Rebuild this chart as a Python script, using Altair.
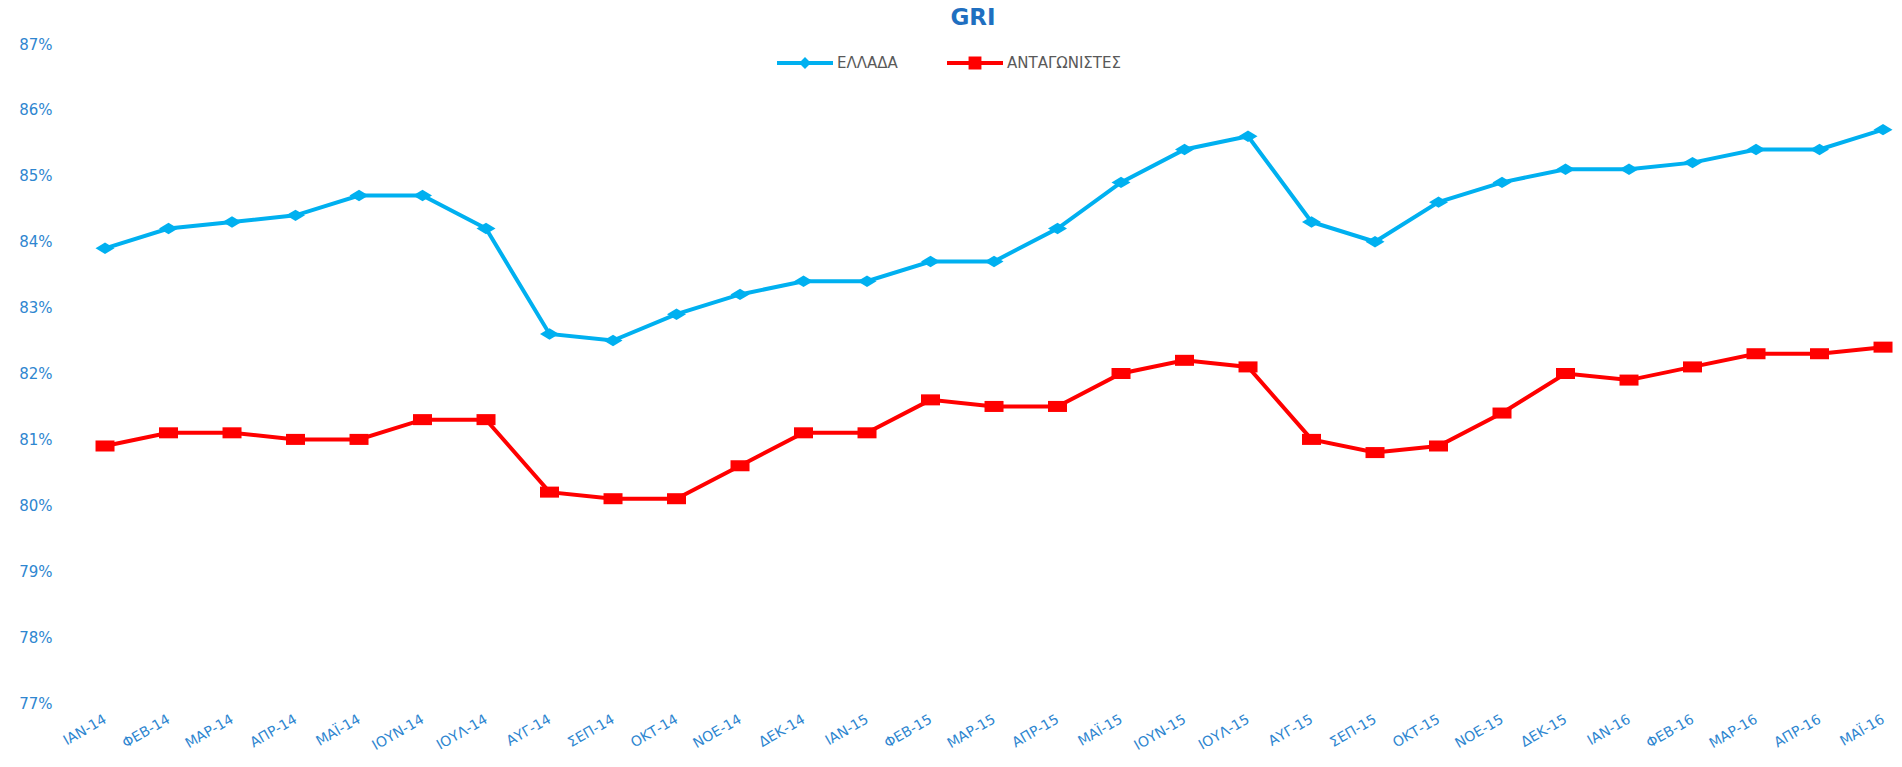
import altair as alt
import pandas as pd
import json

months = ["ΙΑΝ-14", "ΦΕΒ-14", "ΜΑΡ-14", "ΑΠΡ-14", "ΜΑΪ-14", "ΙΟΥΝ-14", "ΙΟΥΛ-14", "ΑΥΓ-14",
          "ΣΕΠ-14", "ΟΚΤ-14", "ΝΟΕ-14", "ΔΕΚ-14",
          "ΙΑΝ-15", "ΦΕΒ-15", "ΜΑΡ-15", "ΑΠΡ-15", "ΜΑΪ-15", "ΙΟΥΝ-15", "ΙΟΥΛ-15", "ΑΥΓ-15",
          "ΣΕΠ-15", "ΟΚΤ-15", "ΝΟΕ-15", "ΔΕΚ-15",
          "ΙΑΝ-16", "ΦΕΒ-16", "ΜΑΡ-16", "ΑΠΡ-16", "ΜΑΪ-16"]

greece = [83.9, 84.2, 84.3, 84.4, 84.7, 84.7, 84.2, 82.6, 82.5, 82.9, 83.2, 83.4, 83.4, 83.7,
          83.7, 84.2, 84.9, 85.4, 85.6, 84.3, 84.0, 84.6, 84.9, 85.1, 85.1, 85.2, 85.4, 85.4, 85.7]

competitors = [80.9, 81.1, 81.1, 81.0, 81.0, 81.3, 81.3, 80.2, 80.1, 80.1, 80.6, 81.1, 81.1, 81.6,
               81.5, 81.5, 82.0, 82.2, 82.1, 81.0, 80.8, 80.9, 81.4, 82.0, 81.9, 82.1, 82.3, 82.3, 82.4]

series = ["ΕΛΛΑΔΑ", "ΑΝΤΑΓΩΝΙΣΤΕΣ"]
colors = ["#00B0F0", "#FF0000"]
y_ticks = [0.77, 0.78, 0.79, 0.80, 0.81, 0.82, 0.83, 0.84, 0.85, 0.86, 0.87]

rows = []
for i, m in enumerate(months):
    rows.append({"idx": i, "month": m, "series": series[0], "value": greece[i] / 100})
    rows.append({"idx": i, "month": m, "series": series[1], "value": competitors[i] / 100})
df = pd.DataFrame(rows)

label_expr = json.dumps(months, ensure_ascii=False) + "[datum.value]"

marker_paths = ["M-1,0L0,-0.6L1,0L0,0.6Z", "M-1,-0.58L1,-0.58L1,0.58L-1,0.58Z"]
legend_paths = [
    "M-1,-0.07L1,-0.07L1,0.07L-1,0.07Z M0,-0.214L0.214,0L0,0.214L-0.214,0Z",
    "M-1,-0.07L1,-0.07L1,0.07L-1,0.07Z M-0.23,-0.23L0.23,-0.23L0.23,0.23L-0.23,0.23Z",
]

axis_color = "#2E86D0"
font = "DejaVu Sans"

x_enc = alt.X(
    "idx:Q",
    scale=alt.Scale(domain=[-0.709, 28.047], nice=False, zero=False),
    axis=alt.Axis(
        title=None, values=list(range(len(months))), labelExpr=label_expr,
        labelAngle=330, labelAlign="right", labelBaseline="middle",
        labelPadding=15, ticks=False, tickSize=0, domain=False, grid=False,
        labelColor=axis_color, labelFont=font, labelFontSize=14,
        labelOverlap=False, labelFlush=False, labelBound=False,
    ),
)
y_enc = alt.Y(
    "value:Q",
    scale=alt.Scale(domain=[0.77, 0.87], nice=False, zero=False),
    axis=alt.Axis(
        title=None, values=y_ticks, format=".0%", ticks=False, tickSize=0,
        domain=False, grid=False, labelPadding=8,
        labelColor=axis_color, labelFont=font, labelFontSize=15,
    ),
)
color_scale = alt.Scale(domain=series, range=colors)

legend_spec = alt.Legend(
    title=None, orient="none", direction="horizontal", legendX=717, legendY=-9,
    symbolSize=3136, labelOffset=4, columnPadding=49, padding=0,
    labelFont=font, labelFontSize=15, labelColor="#595959", symbolStrokeWidth=0,
    symbolOpacity=1,
)

lines = alt.Chart(df).mark_line(strokeWidth=4).encode(
    x=x_enc, y=y_enc,
    color=alt.Color("series:N", scale=color_scale, legend=None),
    detail="series:N",
)

marker_layers = []
for s, p in zip(series, marker_paths):
    marker_layers.append(
        alt.Chart(df).transform_filter(alt.datum.series == s)
        .mark_point(filled=True, size=361, opacity=1, shape=p)
        .encode(x=x_enc, y=y_enc,
                color=alt.Color("series:N", scale=color_scale, legend=None))
    )

legend_layer = alt.Chart(df).mark_point(filled=True, size=1, opacity=0).encode(
    x=x_enc, y=y_enc,
    color=alt.Color("series:N", scale=color_scale, legend=legend_spec),
    shape=alt.Shape("series:N", scale=alt.Scale(domain=series, range=legend_paths), legend=legend_spec),
)

chart = alt.layer(lines, *marker_layers, legend_layer).resolve_legend(
    color="independent", shape="independent"
).properties(
    width=1826,
    height=659,
    title=alt.TitleParams("GRI", fontSize=23, font=font, fontWeight="bold", color="#1F6FC0",
                          anchor="middle", baseline="alphabetic", offset=-13),
    autosize=alt.AutoSizeParams(type="none"),
    padding={"left": 52, "top": 36, "right": 8, "bottom": 56},
).configure_view(strokeWidth=0)

chart.save("out.html", embed_options={"renderer": "svg", "actions": False})
